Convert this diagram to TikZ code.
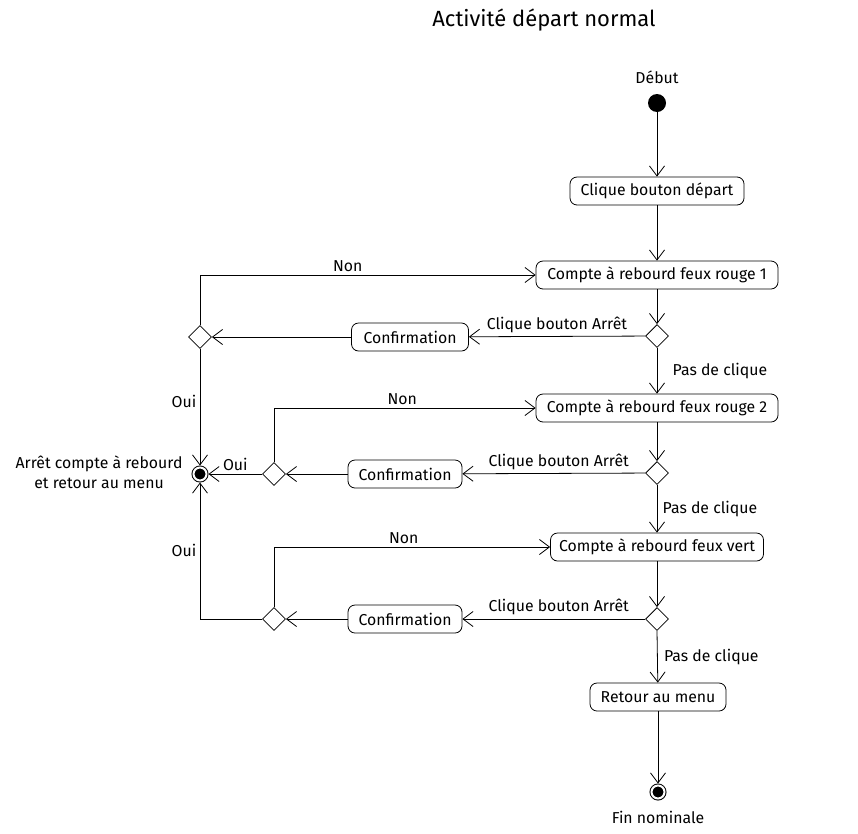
\documentclass[tikz,border=0pt]{standalone}
\usepackage{fontspec}
\setmainfont{Fira Sans}
\usetikzlibrary{arrows.meta,shapes.geometric}
\begin{document}
\begin{tikzpicture}[x=1pt,y=-1pt,
  txt/.style={font=\fontsize{15.8}{20}\selectfont},
  act/.style={txt, draw, rounded corners=7pt, minimum height=28pt, inner xsep=6pt, line width=0.8pt},
  dec/.style={draw, diamond, minimum width=23pt, minimum height=23pt, inner sep=0pt, line width=0.8pt},
  startn/.style={circle, fill=black, minimum size=18pt, inner sep=0pt},
  endn/.style={circle, fill=black, draw, line width=1pt, double=white, double distance=2pt, minimum size=13pt, inner sep=0pt, outer sep=2pt},
  flow/.style={-{Straight Barb[length=10pt,width=15pt]}, line width=0.8pt},
  lbl/.style={txt}
]
\useasboundingbox (0,0) rectangle (858,833);

\node[font=\fontsize{22}{26}\selectfont] (title) at (544,20) {Activité départ normal};

\node[startn] (start) at (657,103) {};
\node[lbl, above=7pt] (debut) at (start.north) {Début};

\node[act, minimum width=174pt] (c0) at (657,191) {Clique bouton départ};
\node[act, minimum width=242pt] (c1) at (657,275) {Compte à rebourd feux rouge 1};
\node[dec] (d1) at (657,336) {};
\node[act, minimum width=117pt] (conf1) at (410,337) {Confirmation};
\node[dec] (l1) at (200,337) {};

\node[act, minimum width=242pt] (c2) at (657,408) {Compte à rebourd feux rouge 2};
\node[dec] (d2) at (657,473) {};
\node[act, minimum width=114pt] (conf2) at (405,474) {Confirmation};
\node[dec] (l2) at (274,474) {};
\node[endn] (end1) at (200,474) {};
\node[lbl, align=center, anchor=east] (endlbl) at (186,472) {Arrêt compte à rebourd\\et retour au menu};

\node[act, minimum width=213pt] (c3) at (657,547) {Compte à rebourd feux vert};
\node[dec] (d3) at (657,619) {};
\node[act, minimum width=114pt] (conf3) at (405,619) {Confirmation};
\node[dec] (l3) at (274,619) {};

\node[act, minimum width=136pt] (ret) at (658,697) {Retour au menu};
\node[endn] (fin) at (658,792) {};
\node[lbl, below=7pt] (finlbl) at (fin.south) {Fin nominale};

\draw[flow] (start) -- (c0);
\draw[flow] (c0) -- (c1);
\draw[flow] (c1) -- (d1);
\draw[flow] (d1) -- node[lbl, above] {Clique bouton Arrêt} (conf1);
\draw[flow] (conf1) -- (l1);
\draw[flow] (l1.north) |- node[lbl, above, pos=0.72] {Non} (c1.west);
\draw[flow] (l1.south) -- node[lbl, left, pos=0.45] {Oui} (end1);
\draw[flow] (d1.south) -- node[lbl, right=12pt] {Pas de clique} (c2);

\draw[flow] (c2) -- (d2);
\draw[flow] (d2) -- node[lbl, above, xshift=5pt] {Clique bouton Arrêt} (conf2);
\draw[flow] (conf2) -- (l2);
\draw[flow] (l2.north) |- node[lbl, above, pos=0.745] {Non} (c2.west);
\draw[flow] (l2) -- node[lbl, above] {Oui} (end1);
\draw[flow] (d2.south) -- node[lbl, right=2pt] {Pas de clique} (c3);

\draw[flow] (c3) -- (d3);
\draw[flow] (d3) -- node[lbl, above, xshift=5pt] {Clique bouton Arrêt} (conf3);
\draw[flow] (conf3) -- (l3);
\draw[flow] (l3.north) |- node[lbl, above, pos=0.735] {Non} (c3.west);
\draw[flow] (l3.west) -| node[lbl, left, pos=0.75] {Oui} (end1.south);
\draw[flow] (d3.south) -- node[lbl, right=3pt] {Pas de clique} (ret);

\draw[flow] (ret) -- (fin);
\end{tikzpicture}
\end{document}
